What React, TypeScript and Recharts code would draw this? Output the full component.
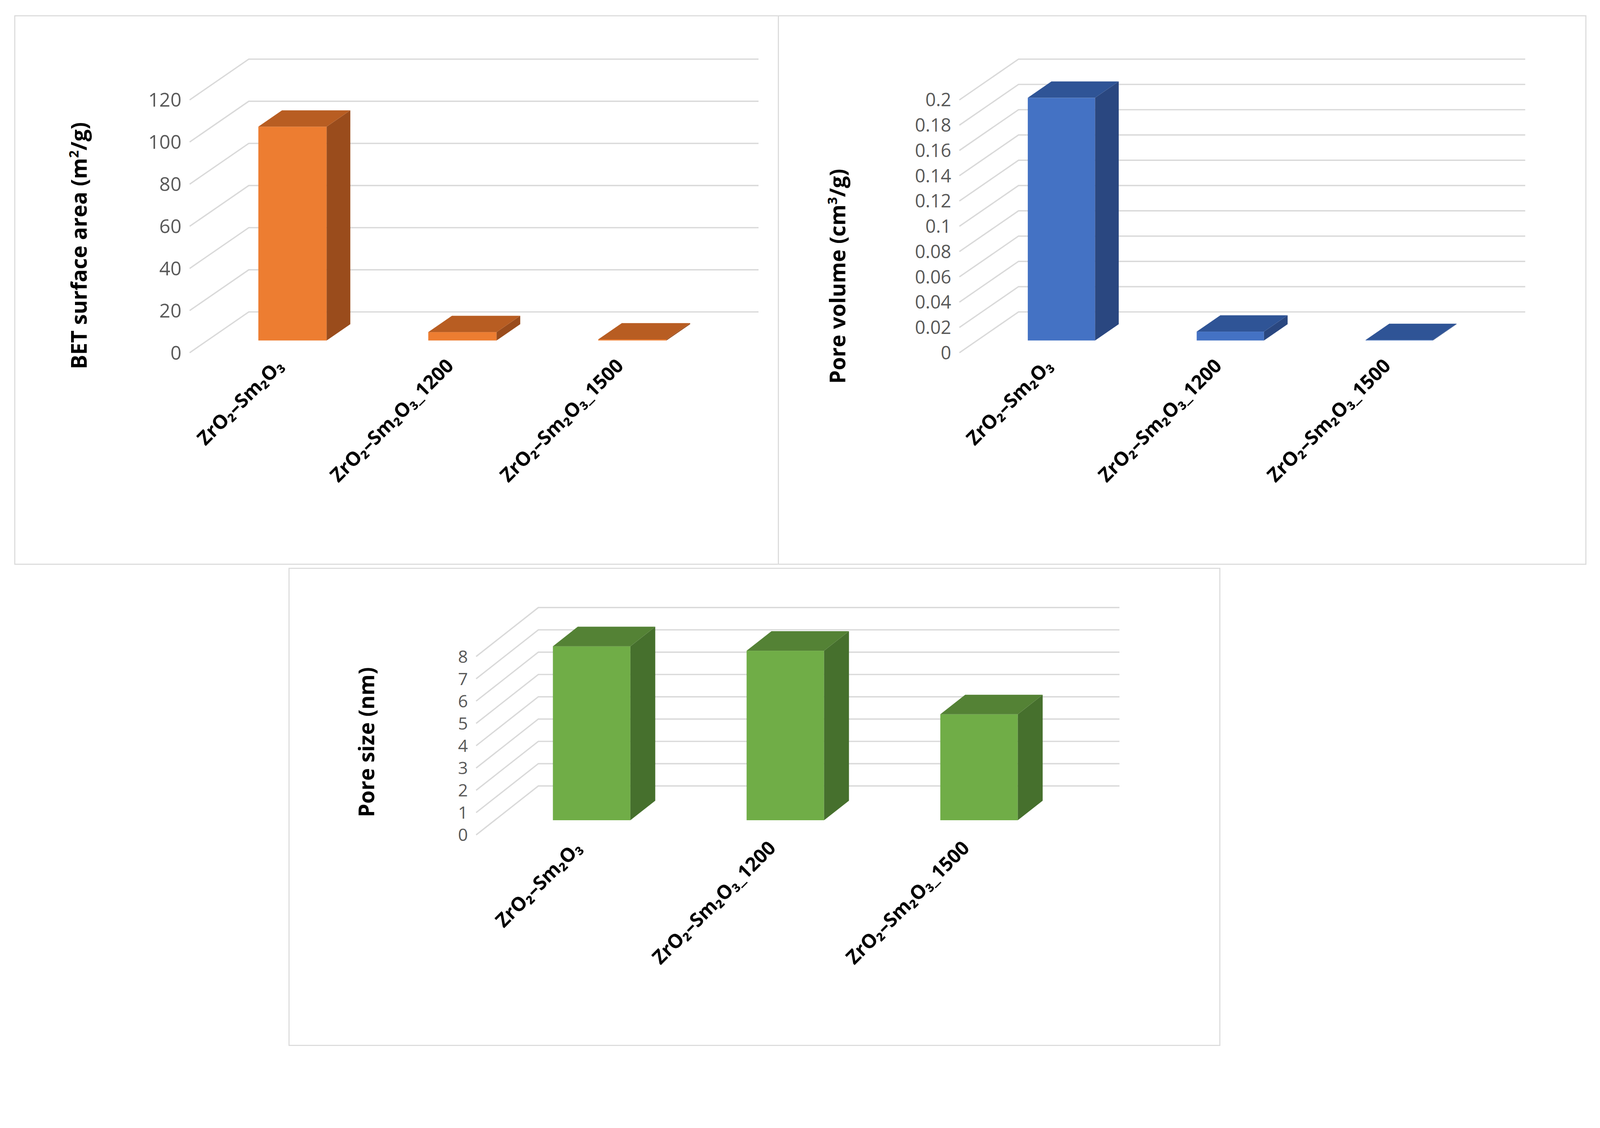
import React from "react";
import { BarChart, Bar, XAxis, YAxis, CartesianGrid } from "recharts";

// sample names
const categories = ["ZrO₂–Sm₂O₃", "ZrO₂–Sm₂O₃_1200", "ZrO₂–Sm₂O₃_1500"];

const betArea = [101.5, 4, 0.5];
const poreVolume = [0.192, 0.007, 0.0004];
const poreSize = [7.8, 7.6, 4.75];

const betTicks = [0, 20, 40, 60, 80, 100, 120];
const volTicks = [0, 0.02, 0.04, 0.06, 0.08, 0.1, 0.12, 0.14, 0.16, 0.18, 0.2];
const sizeTicks = [0, 1, 2, 3, 4, 5, 6, 7, 8];

const S = 2.61;
const FONT = "'Open Sans', 'Noto Sans', sans-serif";

type Box = { left: number; top: number; width: number; height: number };

interface PanelProps {
  box: Box;
  plot: { left: number; right: number; top: number; bottom: number };
  dx: number;
  dy: number;
  values: number[];
  ticks: number[];
  tickSize: number;
  title: React.ReactNode;
  titlePos: [number, number];
  colors: [string, string, string];
}

function Panel({ box, plot, dx, dy, values, ticks, tickSize, title, titlePos, colors }: PanelProps) {
  const data = categories.map((c, i) => ({ name: c, v: values[i] }));
  const yw = 60;
  const xh = 30;
  const f = 0.3; // bar position within depth
  const d = 0.4; // bar depth

  const gridLine = (p: any) => {
    const { x1, x2, y1 } = p;
    return (
      <path
        key={p.key}
        d={`M${x1},${y1} L${x1 + dx},${y1 - dy} L${x2 + dx},${y1 - dy}`}
        stroke="#D9D9D9"
        strokeWidth={1.3}
        fill="none"
      />
    );
  };

  const shape = (p: any) => {
    const { x, y, width, height } = p;
    const x0 = x + f * dx;
    const y0 = y - f * dy;
    const yb = y + height - f * dy;
    const ddx = d * dx;
    const ddy = d * dy;
    return (
      <g>
        <rect x={x0} y={y0} width={width} height={Math.max(yb - y0, 0)} fill={colors[0]} />
        <path
          d={`M${x0 + width},${y0} L${x0 + width + ddx},${y0 - ddy} L${x0 + width + ddx},${yb - ddy} L${x0 + width},${yb} Z`}
          fill={colors[2]}
        />
        <path
          d={`M${x0},${y0} L${x0 + width},${y0} L${x0 + width + ddx},${y0 - ddy} L${x0 + ddx},${y0 - ddy} Z`}
          fill={colors[1]}
        />
      </g>
    );
  };

  const xTick = (p: any) => {
    const { x, y, payload } = p;
    return (
      <text
        x={x + 10}
        y={y + 6}
        transform={`rotate(-45 ${x + 10} ${y + 6})`}
        textAnchor="end"
        fontSize={19}
        fontWeight="bold"
        fill="#000"
        fontFamily={FONT}
      >
        {payload.value}
      </text>
    );
  };

  return (
    <div
      style={{
        position: "absolute",
        left: box.left,
        top: box.top,
        width: box.width,
        height: box.height,
        border: "1.5px solid #D9D9D9",
        boxSizing: "border-box",
        background: "#fff",
      }}
    >
      <BarChart
        width={box.width}
        height={box.height}
        data={data}
        barCategoryGap="30%"
        style={{ overflow: "visible" }}
        margin={{
          top: plot.top - box.top,
          left: plot.left - box.left - yw,
          right: box.left + box.width - plot.right,
          bottom: box.top + box.height - plot.bottom - xh,
        }}
      >
        <CartesianGrid vertical={false} horizontal={gridLine} />
        <XAxis dataKey="name" axisLine={false} tickLine={false} height={xh} tick={xTick} interval={0} />
        <YAxis
          width={yw}
          domain={[0, ticks[ticks.length - 1]]}
          ticks={ticks}
          interval={0}
          axisLine={false}
          tickLine={false}
          tick={{ fontSize: tickSize, fill: "#595959", fontFamily: FONT }}
        />
        <Bar dataKey="v" shape={shape} isAnimationActive={false} />
      </BarChart>
      <div
        style={{
          position: "absolute",
          left: titlePos[0] - box.left,
          top: titlePos[1] - box.top,
          transform: "translate(-50%, -50%) rotate(-90deg)",
          whiteSpace: "nowrap",
          fontFamily: FONT,
          fontWeight: "bold",
          fontSize: 21,
          color: "#000",
        }}
      >
        {title}
      </div>
    </div>
  );
}

export default function App() {
  return (
    <div
      style={{
        position: "absolute",
        left: 0,
        top: 0,
        width: 4364,
        height: 2888,
        background: "#fff",
        overflow: "hidden",
      }}
    >
      <div
        style={{
          position: "absolute",
          left: 0,
          top: 0,
          width: 1672,
          height: 1107,
          transform: `scale(${S})`,
          transformOrigin: "0 0",
        }}
      >
        <Panel
          box={{ left: 14, top: 15, width: 750, height: 539 }}
          plot={{ left: 185, right: 685, top: 97, bottom: 345 }}
          dx={58}
          dy={40}
          values={betArea}
          ticks={betTicks}
          tickSize={19}
          title={<>BET surface area (m<sup style={{ fontSize: 13 }}>2</sup>/g)</>}
          titlePos={[76, 240]}
          colors={["#ED7D31", "#B85D22", "#9A4C1C"]}
        />
        <Panel
          box={{ left: 763, top: 15, width: 793, height: 539 }}
          plot={{ left: 940, right: 1437, top: 97, bottom: 345 }}
          dx={58}
          dy={40}
          values={poreVolume}
          ticks={volTicks}
          tickSize={18}
          title={<>Pore volume (cm<sup style={{ fontSize: 13 }}>3</sup>/g)</>}
          titlePos={[820, 270]}
          colors={["#4472C4", "#2F5496", "#2A4780"]}
        />
        <Panel
          box={{ left: 283, top: 557, width: 914, height: 469 }}
          plot={{ left: 466, right: 1036, top: 643, bottom: 818 }}
          dx={61}
          dy={48}
          values={poreSize}
          ticks={sizeTicks}
          tickSize={17}
          title="Pore size (nm)"
          titlePos={[358, 727]}
          colors={["#70AD47", "#548235", "#46702D"]}
        />
      </div>
    </div>
  );
}
